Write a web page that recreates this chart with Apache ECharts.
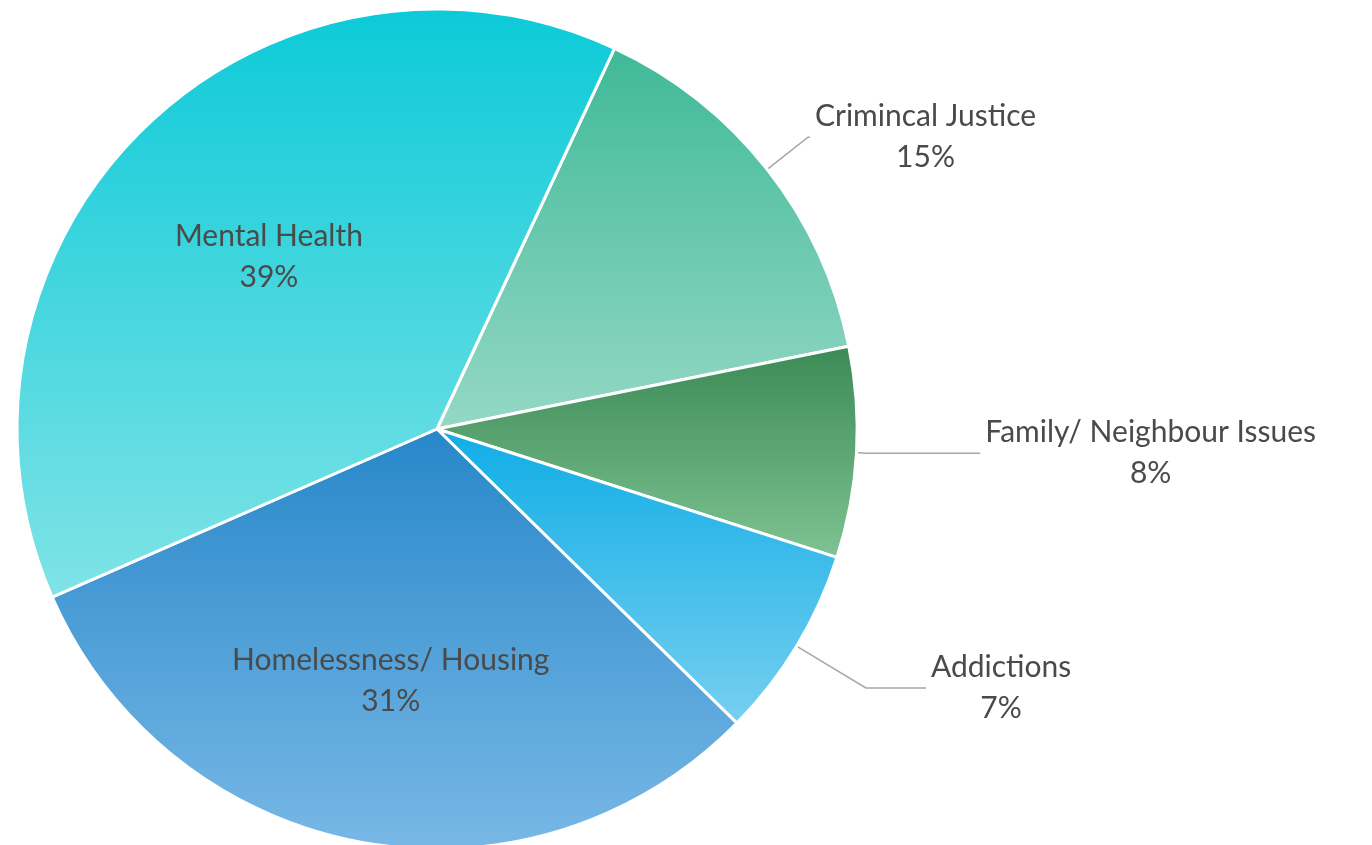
<!DOCTYPE html>
<html>
<head>
<meta charset="utf-8">
<script src="https://cdn.jsdelivr.net/npm/echarts@6/dist/echarts.min.js"></script>
<style>
html,body{margin:0;padding:0;background:#fff;}
#chart{width:1372px;height:845px;}
</style>
</head>
<body>
<div id="chart"></div>
<script>
// Data (clockwise from the top-right)
const categories = ['Crimincal Justice', 'Family/ Neighbour Issues', 'Addictions', 'Homelessness/ Housing', 'Mental Health'];
const values = [14.9, 8.1, 7.4, 31.1, 38.5];

// Styles
const gradientTops = ['#3fb998', '#3b8a55', '#0fade6', '#2787c9', '#0ccad8'];
const gradientBottoms = ['#95d8c5', '#7fc393', '#77cff0', '#78b8e6', '#80e3e6'];
const insideIdx = [3, 4];
const insidePush = {3: 1.2, 4: 1.13};
const lineLengths = [[52, 2], [10, 114], [81, 60]];
const CX = 437, CY = 429, R = 420;
const FONT = 'Lato, "Noto Sans", sans-serif';

const data = categories.map((name, i) => {
  const item = {
    name: name,
    value: values[i],
    itemStyle: {
      color: {
        type: 'linear', x: 0, y: 0, x2: 0, y2: 1,
        colorStops: [{offset: 0, color: gradientTops[i]}, {offset: 1, color: gradientBottoms[i]}]
      }
    }
  };
  if (insideIdx.includes(i)) {
    item.label = {position: 'inside'};
    item.labelLine = {show: false};
  } else {
    item.labelLine = {length: lineLengths[i][0], length2: lineLengths[i][1]};
  }
  return item;
});

const chart = echarts.init(document.getElementById('chart'));
chart.setOption({
  backgroundColor: '#ffffff',
  animation: false,
  series: [{
    type: 'pie',
    center: [CX, CY],
    radius: R,
    startAngle: 65,
    clockwise: true,
    percentPrecision: 0,
    avoidLabelOverlap: false,
    itemStyle: {borderColor: '#ffffff', borderWidth: 3},
    label: {
      show: true,
      position: 'outside',
      formatter: '{c|{b}}\n{c|{d}%}',
      color: '#4a4a4a',
      fontFamily: FONT,
      fontSize: 30,
      lineHeight: 41,
      distanceToLabelLine: 5,
      rich: {
        c: {align: 'center', color: '#4a4a4a', fontFamily: FONT, fontSize: 30, lineHeight: 41}
      }
    },
    labelLine: {
      show: true,
      lineStyle: {color: '#a6a6a6', width: 1.5}
    },
    labelLayout: function (p) {
      if (!(p.dataIndex in insidePush)) return {};
      const r = p.labelRect;
      const lx = r.x + r.width / 2, ly = r.y + r.height / 2;
      const k = insidePush[p.dataIndex] - 1;
      return {dx: (lx - CX) * k, dy: (ly - CY) * k};
    },
    data: data
  }]
});
</script>
</body>
</html>
